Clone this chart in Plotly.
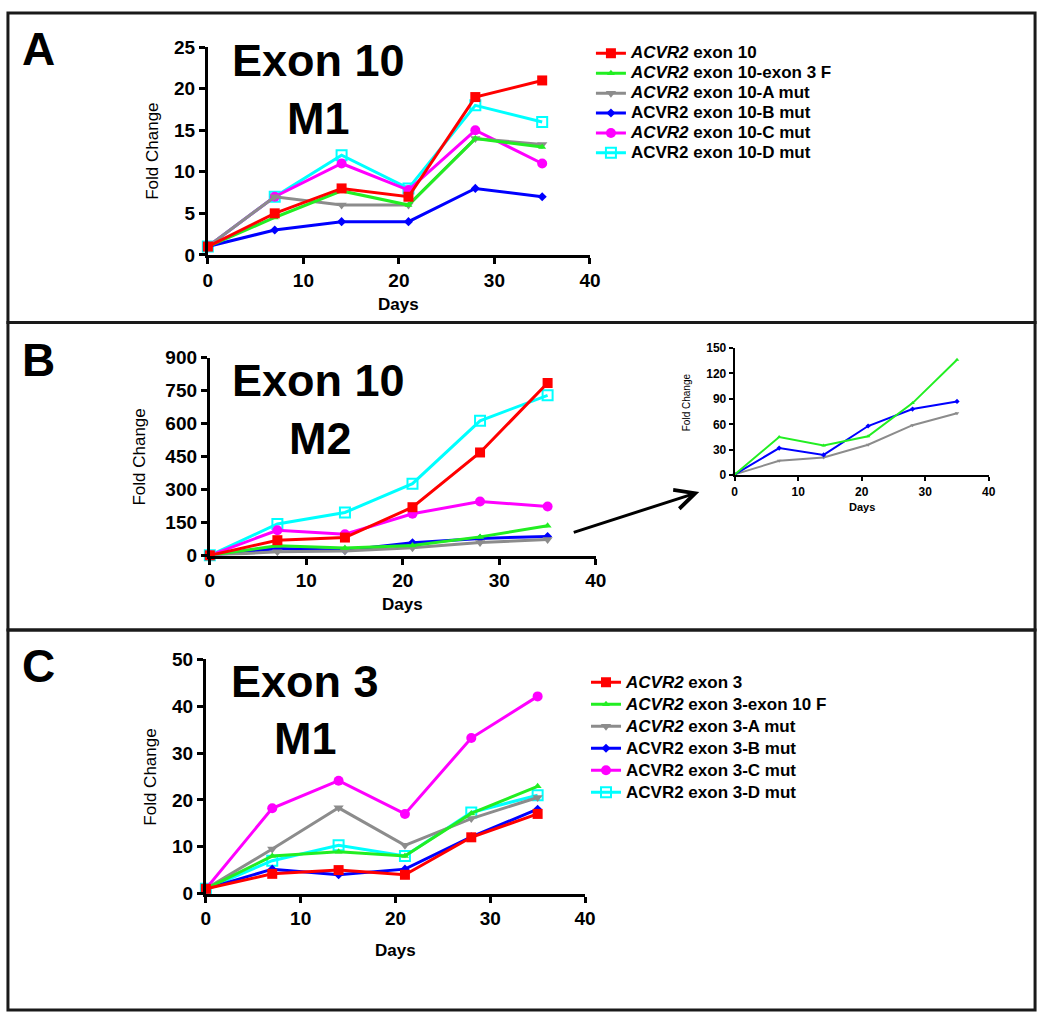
import plotly.graph_objects as go

W, H = 1050, 1024
def fx(p): return p / W
def fy(p): return 1 - p / H

FONT = "Liberation Sans"

days = [0, 7, 14, 21, 28, 35]

# Panel A: Exon 10, M1
a_names = ["<i>ACVR2</i> exon 10", "<i>ACVR2</i> exon 10-exon 3 F", "<i>ACVR2</i> exon 10-A mut",
           "ACVR2 exon 10-B mut", "<i>ACVR2</i> exon 10-C mut", "ACVR2 exon 10-D mut"]
a_wt    = [1, 5, 8, 7, 19, 21]
a_f     = [1, 4.5, 7.7, 6, 14, 13]
a_amut  = [1, 7, 6, 6, 14, 13.3]
a_bmut  = [1, 3, 4, 4, 8, 7]
a_cmut  = [1, 7, 11, 7.8, 15, 11]
a_dmut  = [1, 7, 12, 8, 18, 16]

# Panel B: Exon 10, M2
b_wt    = [1, 70, 82, 220, 469, 785]
b_f     = [1, 45, 35, 46, 85, 136]
b_amut  = [1, 17, 21, 36, 59, 73]
b_bmut  = [1, 32, 24, 58, 78, 87]
b_cmut  = [1, 115, 97, 190, 246, 223]
b_dmut  = [1, 144, 196, 327, 613, 729]

# Panel C: Exon 3, M1
c_names = ["<i>ACVR2</i> exon 3", "<i>ACVR2</i> exon 3-exon 10 F", "<i>ACVR2</i> exon 3-A mut",
           "ACVR2 exon 3-B mut", "ACVR2 exon 3-C mut", "ACVR2 exon 3-D mut"]
c_wt    = [1, 4.2, 5, 4, 12, 17]
c_f     = [1, 8, 8.9, 8, 17.1, 22.9]
c_amut  = [1, 9.5, 18.3, 10.3, 16, 20.5]
c_bmut  = [1, 5.2, 4, 5.2, 12.1, 18]
c_cmut  = [1, 18.2, 24.1, 17, 33.2, 42.1]
c_dmut  = [1, 7, 10.3, 8, 17.3, 21]

colors  = ["#FF0000", "#22EE22", "#8C8C8C", "#0000FF", "#FF00FF", "#00FFFF"]
symbols = ["square", "triangle-up", "triangle-down", "diamond", "circle", "square-open"]
msizes  = [10, 7, 9, 7, 10, 10]

fig = go.Figure()

def big(name):
    return '<span style="font-size:17px">' + name + '</span>'

def add_panel(series, names, xa, ya, legend, show, lw=3):
    for i in list(range(len(series)))[::-1]:
        fig.add_trace(go.Scatter(
            x=days, y=series[i], name=big(names[i]) if names else "",
            mode="lines+markers", xaxis=xa, yaxis=ya, legend=legend, showlegend=show,
            cliponaxis=False,
            line=dict(color=colors[i], width=lw),
            marker=dict(symbol=symbols[i], size=msizes[i], color=colors[i],
                        line=dict(color=colors[i], width=2 if symbols[i] == "square-open" else 0)),
        ))

add_panel([a_wt, a_f, a_amut, a_bmut, a_cmut, a_dmut], a_names, "x", "y", "legend", True)
add_panel([b_wt, b_f, b_amut, b_bmut, b_cmut, b_dmut], None, "x2", "y2", "legend", False)
inset = [None, b_f, b_amut, b_bmut]
for i in [2, 3, 1]:
    fig.add_trace(go.Scatter(x=days, y=inset[i], mode="lines+markers", xaxis="x3", yaxis="y3",
                             showlegend=False, cliponaxis=False,
                             line=dict(color=colors[i], width=2),
                             marker=dict(symbol=symbols[i], size=4, color=colors[i])))
add_panel([c_wt, c_f, c_amut, c_bmut, c_cmut, c_dmut], c_names, "x4", "y4", "legend2", True)

def axstyle(size=19, lw=3, tl=6):
    return dict(showline=True, linecolor="black", linewidth=lw, ticks="outside", ticklen=tl,
                tickwidth=lw, tickcolor="black", showgrid=False, zeroline=False,
                tickfont=dict(family=FONT, size=size, color="black", weight="bold"))

layout = dict(
    width=W, height=H, margin=dict(l=0, r=0, t=0, b=0),
    paper_bgcolor="white", plot_bgcolor="rgba(0,0,0,0)",
    xaxis=dict(domain=[fx(206), fx(594)], range=[0, 40], dtick=10, anchor="y", **axstyle()),
    yaxis=dict(domain=[fy(250), fy(38)], range=[0, 25], dtick=5, anchor="x", **axstyle()),
    xaxis2=dict(domain=[fx(208), fx(600)], range=[0, 40], dtick=10, anchor="y2", **axstyle()),
    yaxis2=dict(domain=[fy(557), fy(355)], range=[0, 900], dtick=150, anchor="x2", **axstyle()),
    xaxis3=dict(domain=[fx(741), fx(999)], range=[0, 40], dtick=10, anchor="y3", **axstyle(12, 2, 4)),
    yaxis3=dict(domain=[fy(475), fy(345)], range=[0, 150], dtick=30, anchor="x3", **axstyle(12, 2, 4)),
    xaxis4=dict(domain=[fx(204), fx(589)], range=[0, 40], dtick=10, anchor="y4", **axstyle()),
    yaxis4=dict(domain=[fy(902), fy(663)], range=[0, 50], dtick=10, anchor="x4", **axstyle()),
    legend=dict(x=fx(595), y=fy(29), xanchor="left", yanchor="top", traceorder="reversed",
                font=dict(family=FONT, size=13, color="black", weight="bold"),
                bgcolor="rgba(0,0,0,0)", itemwidth=30, tracegroupgap=0),
    legend2=dict(x=fx(590), y=fy(670), xanchor="left", yanchor="top", traceorder="reversed",
                 font=dict(family=FONT, size=14.6, color="black", weight="bold"),
                 bgcolor="rgba(0,0,0,0)", itemwidth=30, tracegroupgap=0),
)
fig.update_layout(**layout)

ann = []
def txt(x, y, t, size, bold=True, angle=0):
    ann.append(dict(x=fx(x), y=fy(y), xref="paper", yref="paper", text=t, showarrow=False,
                    textangle=angle, xanchor="center", yanchor="middle",
                    font=dict(family=FONT, size=size, color="black", weight="bold" if bold else "normal")))

txt(34, 40, "A", 46)
txt(34, 357, "B", 46)
txt(34, 670, "C", 46)
txt(318, 52, "Exon 10", 45); txt(318, 111, "M1", 45)
txt(318, 378, "Exon 10", 45); txt(320, 437, "M2", 45)
txt(305, 686, "Exon 3", 45); txt(305, 744, "M1", 45)
txt(149, 144, "Fold Change", 17, bold=False, angle=-90)
txt(137, 456, "Fold Change", 17, bold=False, angle=-90)
txt(148, 783, "Fold Change", 17, bold=False, angle=-90)
txt(692, 400, "Fold Change", 10, bold=False, angle=-90)
txt(400, 301, "Days", 17)
txt(404, 607, "Days", 17)
txt(397, 960, "Days", 17)
txt(870, 507, "Days", 11)

ann.append(dict(x=fx(705), y=fy(492), ax=578 - 705, ay=533 - 492, xref="paper", yref="paper",
                showarrow=True, arrowhead=5, arrowsize=1.3,
                arrowwidth=3, arrowcolor="black", text=""))
fig.update_layout(annotations=ann)

shapes = []
for y0, y1 in [(3, 319), (319, 633), (633, 1021)]:
    shapes.append(dict(type="rect", xref="paper", yref="paper", x0=fx(3), x1=fx(1046),
                       y0=fy(y1), y1=fy(y0), line=dict(color="#1a1a1a", width=3)))
fig.update_layout(shapes=shapes)

fig.write_html("out.html", config={"displayModeBar": False},
               post_script="document.body.style.margin='0';document.body.style.overflow='hidden';")
